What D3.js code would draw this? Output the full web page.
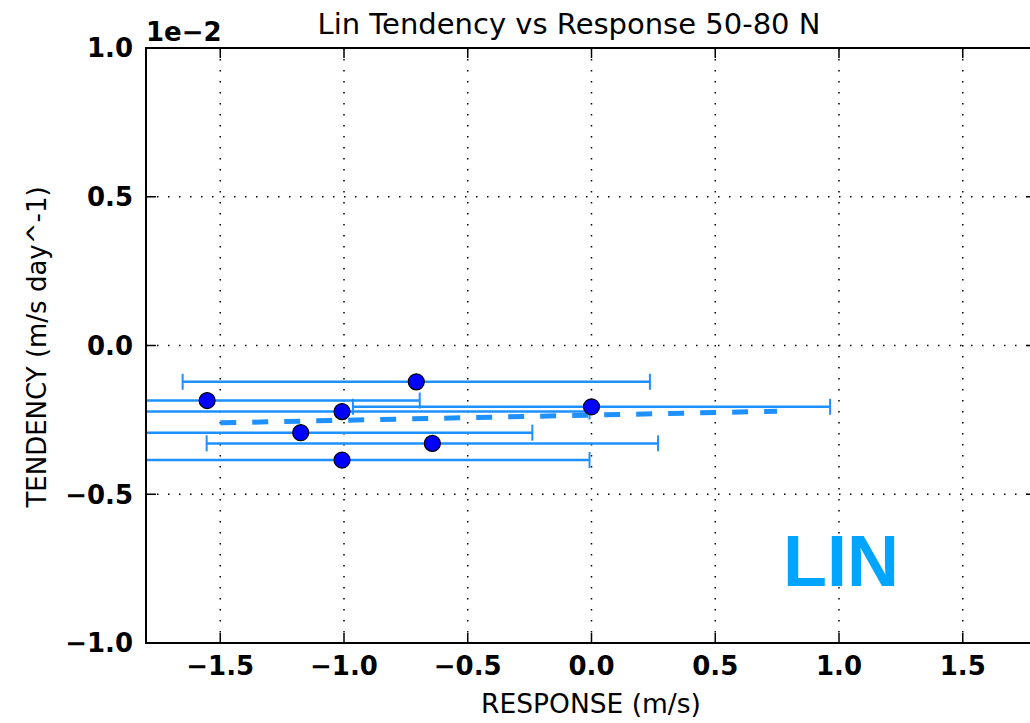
<!DOCTYPE html>
<html>
<head>
<meta charset="utf-8">
<script src="https://cdn.jsdelivr.net/npm/d3@7"></script>
<style>
  html, body { margin: 0; padding: 0; background: #fff; }
  svg { display: block; font-family: "DejaVu Sans", sans-serif; }
</style>
</head>
<body>
<svg id="chart" width="1030" height="723"></svg>
<script>
// Response (m/s) and tendency (units of 1e-2 m/s/day) for each ensemble member
const response = [-0.708, -1.553, -1.008, 0.0, -1.175, -0.643, -1.008];
const tendency = [-0.122, -0.185, -0.222, -0.206, -0.293, -0.329, -0.385];
const responseErr = [0.944, 0.859, 1.0, 0.964, 0.936, 0.912, 1.0];

// Least-squares fit, drawn between its two end points
const fitX = [-1.5, 0.75];
const fitY = [-0.260, -0.221];

const xTicks = [-1.5, -1.0, -0.5, 0.0, 0.5, 1.0, 1.5];
const yTicks = [-1.0, -0.5, 0.0, 0.5, 1.0];

const svg = d3.select("#chart");
const plotL = 146, plotR = 1037, plotT = 48, plotB = 643;

const x = d3.scaleLinear().domain([-1.8, 1.8]).range([plotL, plotR]);
const y = d3.scaleLinear().domain([-1.0, 1.0]).range([plotB, plotT]);
const fmt = d3.format(".1f");

svg.append("defs").append("clipPath").attr("id", "plotClip")
  .append("rect").attr("x", plotL).attr("y", plotT)
  .attr("width", plotR - plotL).attr("height", plotB - plotT);

// dotted grid
const grid = svg.append("g");
grid.selectAll("line.gx").data(xTicks).join("line")
  .attr("x1", d => x(d)).attr("x2", d => x(d))
  .attr("y1", plotT).attr("y2", plotB)
  .attr("stroke", "#000").attr("stroke-width", 1.5)
  .attr("stroke-dasharray", "1.5,9.5");
grid.selectAll("line.gy").data(yTicks).join("line")
  .attr("y1", d => y(d)).attr("y2", d => y(d))
  .attr("x1", plotL).attr("x2", plotR)
  .attr("stroke", "#000").attr("stroke-width", 1.5)
  .attr("stroke-dasharray", "1.5,9.5");

const plot = svg.append("g").attr("clip-path", "url(#plotClip)");
const pts = response.map((r, i) => ({ r, t: tendency[i], e: responseErr[i] }));

// horizontal error bars with end caps
const bars = plot.append("g").attr("stroke", "#1E90FF");
bars.selectAll("line.bar").data(pts).join("line")
  .attr("x1", d => x(d.r - d.e)).attr("x2", d => x(d.r + d.e))
  .attr("y1", d => y(d.t)).attr("y2", d => y(d.t))
  .attr("stroke-width", 2.5);
bars.selectAll("line.capL").data(pts).join("line")
  .attr("x1", d => x(d.r - d.e)).attr("x2", d => x(d.r - d.e))
  .attr("y1", d => y(d.t) - 8).attr("y2", d => y(d.t) + 8)
  .attr("stroke-width", 2);
bars.selectAll("line.capR").data(pts).join("line")
  .attr("x1", d => x(d.r + d.e)).attr("x2", d => x(d.r + d.e))
  .attr("y1", d => y(d.t) - 8).attr("y2", d => y(d.t) + 8)
  .attr("stroke-width", 2);

// regression line
plot.append("path")
  .datum(fitX.map((v, i) => [v, fitY[i]]))
  .attr("d", d3.line().x(d => x(d[0])).y(d => y(d[1])))
  .attr("fill", "none").attr("stroke", "#1E90FF")
  .attr("stroke-width", 5).attr("stroke-dasharray", "16,16");

// ensemble members
plot.selectAll("circle").data(pts).join("circle")
  .attr("cx", d => x(d.r)).attr("cy", d => y(d.t)).attr("r", 8)
  .attr("fill", "#0000FF").attr("stroke", "#000").attr("stroke-width", 1.2);

// label inside the axes
svg.append("text").attr("x", 841).attr("y", 586)
  .attr("text-anchor", "middle").attr("font-weight", "bold")
  .attr("font-family", "'Liberation Sans', Arial, sans-serif")
  .attr("font-size", 72).attr("fill", "#00A5FF")
  .text("LIN");

// spines (right one lies past the window edge)
svg.append("rect").attr("x", plotL).attr("y", plotT)
  .attr("width", plotR - plotL).attr("height", plotB - plotT)
  .attr("fill", "none").attr("stroke", "#000").attr("stroke-width", 2);

// inward ticks on all sides
const ticks = svg.append("g").attr("stroke", "#000").attr("stroke-width", 1.5);
xTicks.forEach(v => {
  ticks.append("line").attr("x1", x(v)).attr("x2", x(v)).attr("y1", plotB).attr("y2", plotB - 10);
  ticks.append("line").attr("x1", x(v)).attr("x2", x(v)).attr("y1", plotT).attr("y2", plotT + 10);
});
yTicks.forEach(v => {
  ticks.append("line").attr("y1", y(v)).attr("y2", y(v)).attr("x1", plotL).attr("x2", plotL + 10);
  ticks.append("line").attr("y1", y(v)).attr("y2", y(v)).attr("x1", plotR).attr("x2", plotR - 10);
});

// tick labels
svg.append("g").selectAll("text").data(xTicks).join("text")
  .attr("x", d => x(d)).attr("y", 675)
  .attr("text-anchor", "middle").attr("font-weight", "bold").attr("font-size", 26)
  .text(d => fmt(d));
svg.append("g").selectAll("text").data(yTicks).join("text")
  .attr("x", 133).attr("y", d => y(d)).attr("dy", "0.36em")
  .attr("text-anchor", "end").attr("font-weight", "bold").attr("font-size", 26)
  .text(d => fmt(d));

// axis offset text
svg.append("text").attr("x", plotL).attr("y", 41)
  .attr("font-weight", "bold").attr("font-size", 26).text("1e\u22122");

// titles
svg.append("text").attr("x", 569).attr("y", 34)
  .attr("text-anchor", "middle").attr("font-size", 29)
  .text("Lin Tendency vs Response 50-80 N");
svg.append("text").attr("x", 591).attr("y", 713)
  .attr("text-anchor", "middle").attr("font-size", 26.5)
  .text("RESPONSE (m/s)");
svg.append("text").attr("transform", "translate(46,347) rotate(-90)")
  .attr("text-anchor", "middle").attr("font-size", 26)
  .text("TENDENCY (m/s day^-1)");
</script>
</body>
</html>
